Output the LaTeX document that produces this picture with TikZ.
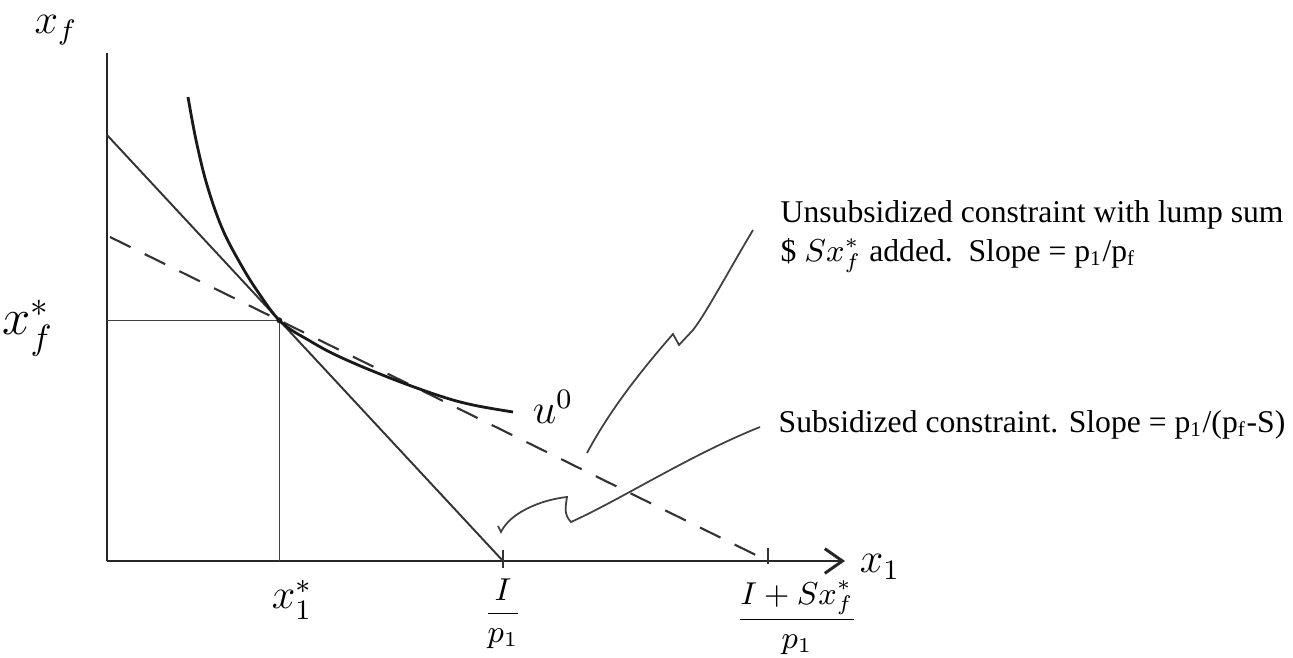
\documentclass[tikz,border=0pt]{standalone}
\usepackage{amsmath,amssymb}
\usepackage{fontspec}
\setmainfont{Liberation Serif}
\usetikzlibrary{arrows.meta,positioning,calc}

\tikzset{
  axis/.style={line width=0.85pt, draw=black!85},
  budget/.style={line width=0.55pt, draw=black!80},
  budgetdash/.style={line width=0.6pt, draw=black!80, dash pattern=on 6.5pt off 4.5pt},
  guide/.style={line width=0.35pt, draw=black!75},
  indiff/.style={line width=0.8pt, draw=black!90},
  leader/.style={line width=0.5pt, draw=black!75},
  hand/.style={font=\large, inner sep=0pt},
  fraclab/.style={font=\small, inner sep=0pt},
  note/.style={font=\fontsize{9}{11}\selectfont, anchor=base west, inner sep=0pt},
}

\begin{document}
\begin{tikzpicture}[x=0.01cm,y=-0.01cm]
  \useasboundingbox (0,0) rectangle (1293,658);
  % axes
  \coordinate (O) at (107,561);
  \coordinate (ytop) at (107,53);
  \coordinate (xend) at (845,561);
  \draw[axis] (ytop) -- (O);
  \draw[axis,-{Straight Barb[length=5pt,width=7pt]}] (O) -- (xend);
  \node[hand] (xflab) at (56,30) {$x_f$};
  \node[hand] (x1lab) at (880,567) {$x_1$};

  % budget constraints: subsidized (solid) and lump sum (dashed)
  \coordinate (A) at (107,135);
  \coordinate (B) at (503,561);
  \coordinate (C) at (110,237);
  \coordinate (D) at (768,561);
  \coordinate (E) at (intersection of A--B and C--D);
  \draw[budget] (A) -- (B);
  \draw[budgetdash] (C) -- (D);
  \draw[budget] ($(B)+(0,-11)$) -- ($(B)+(0,7)$);
  \draw[budget] ($(D)+(0,-13)$) -- ($(D)+(0,3)$);

  % optimum and guides
  \draw[guide] (E) -- (E -| O);
  \draw[guide] (E) -- (E |- O);
  \fill[black!85] (E) circle (3);
  \node[font=\Large, inner sep=0pt] (xfstar) at (28,328) {$x_f^*$};
  \node[hand] (x1star) at (292,600) {$x_1^*$};

  % indifference curve
  \draw[indiff] plot[smooth, tension=0.6] coordinates {(188,97) (196,140) (207,185) (222,228) (240,263) (258,292) (281,322) (310,341) (340,357) (390,378) (440,396) (473,405) (513,412)};
  \node[hand] (ulab) at (553,407) {$u^0$};

  % intercept labels
  \node[fraclab] (ip1) at (503,614) {$\dfrac{I}{p_1}$};
  \node[fraclab] (isp1) at (797,618) {$\dfrac{I+Sx_f^*}{p_1}$};

  % notes
  \node[note] (unsub) at (780,223) {Unsubsidized constraint with lump sum};
  \node[note] (unsubb) at ($(unsub.base west)+(0,39)$) {\$ $Sx_f^*$ added.\ \ Slope = p\textsubscript{1}/p\textsubscript{f}};
  \node[note] (sub) at (778,433) {Subsidized constraint. Slope = p\textsubscript{1}/(p\textsubscript{f}-S)};

  % leaders
  \coordinate (lead1) at ($(unsub.base west)+(-27,7)$);
  \coordinate (dashpt) at (587,453);
  \draw[leader] (lead1) .. controls (728,272) and (705,315) .. (693,330) -- (679,345) -- (673,334) .. controls (640,372) and (610,410) .. (dashpt);
  \coordinate (lead2) at ($(sub.base west)+(-18,-6)$);
  \coordinate (solidpt) at (501,532);
  \draw[leader] (lead2) .. controls (690,455) and (620,500) .. (571,522) .. controls (563,514) and (566,505) .. (567,497) .. controls (540,500) and (510,513) .. (solidpt) -- ++(-3,-6);
\end{tikzpicture}
\end{document}
